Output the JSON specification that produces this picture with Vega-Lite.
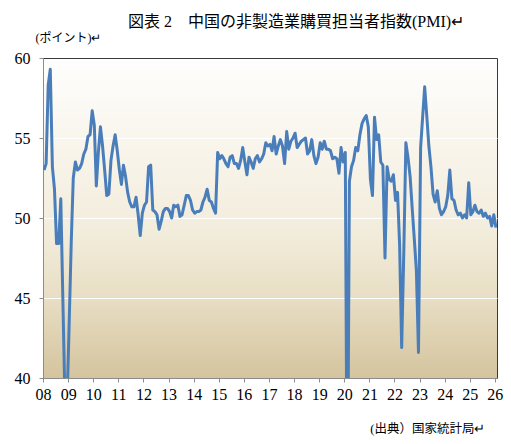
{
  "$schema": "https://vega.github.io/schema/vega-lite/v6.json",
  "autosize": {"type": "none"},
  "padding": {"left": 43, "top": 58, "right": 14, "bottom": 66},
  "width": 454,
  "height": 320,
  "background": "#ffffff",
  "title": {
    "text": "図表 2　中国の非製造業購買担当者指数(PMI)↵",
    "font": "Liberation Serif, Noto Sans CJK JP",
    "fontSize": 16,
    "fontWeight": "normal",
    "color": "#000000",
    "anchor": "start",
    "frame": "group",
    "dx": 85,
    "offset": 1
  },
  "config": {
    "view": {
      "stroke": "#3a3a3a",
      "strokeWidth": 1,
      "fill": {
        "gradient": "linear",
        "x1": 0, "y1": 0, "x2": 0, "y2": 1,
        "stops": [
          {"offset": 0, "color": "#fefefd"},
          {"offset": 0.3, "color": "#f8f4ea"},
          {"offset": 0.55, "color": "#f2ecdb"},
          {"offset": 0.75, "color": "#e8dec4"},
          {"offset": 1, "color": "#d4c49e"}
        ]
      }
    },
    "axis": {
      "labelFont": "Liberation Serif",
      "labelFontSize": 16,
      "labelColor": "#000000",
      "domainColor": "#8c8c8c",
      "tickColor": "#8c8c8c",
      "tickSize": 4,
      "titleFont": "Liberation Serif, Noto Sans CJK JP",
      "titleFontSize": 12,
      "titleFontWeight": "normal",
      "titleColor": "#000000"
    }
  },
  "data": {
    "values": [
      {"m": "2008-01", "v": 53.0}, {"m": "2008-02", "v": 53.4}, {"m": "2008-03", "v": 58.3}, {"m": "2008-04", "v": 59.3},
      {"m": "2008-05", "v": 53.2}, {"m": "2008-06", "v": 51.8}, {"m": "2008-07", "v": 48.4}, {"m": "2008-08", "v": 48.4},
      {"m": "2008-09", "v": 51.2}, {"m": "2008-10", "v": 44.8}, {"m": "2008-11", "v": 38.5}, {"m": "2008-12", "v": 38.5},
      {"m": "2009-01", "v": 43.5}, {"m": "2009-02", "v": 48.5}, {"m": "2009-03", "v": 52.5}, {"m": "2009-04", "v": 53.5},
      {"m": "2009-05", "v": 53.0}, {"m": "2009-06", "v": 53.1}, {"m": "2009-07", "v": 53.4}, {"m": "2009-08", "v": 54.0},
      {"m": "2009-09", "v": 54.3}, {"m": "2009-10", "v": 55.1}, {"m": "2009-11", "v": 55.2}, {"m": "2009-12", "v": 56.7},
      {"m": "2010-01", "v": 55.8}, {"m": "2010-02", "v": 52.0}, {"m": "2010-03", "v": 54.1}, {"m": "2010-04", "v": 55.7},
      {"m": "2010-05", "v": 54.5}, {"m": "2010-06", "v": 53.0}, {"m": "2010-07", "v": 51.4}, {"m": "2010-08", "v": 51.5},
      {"m": "2010-09", "v": 53.6}, {"m": "2010-10", "v": 54.5}, {"m": "2010-11", "v": 55.2}, {"m": "2010-12", "v": 54.2},
      {"m": "2011-01", "v": 53.0}, {"m": "2011-02", "v": 52.1}, {"m": "2011-03", "v": 53.3}, {"m": "2011-04", "v": 52.6},
      {"m": "2011-05", "v": 51.6}, {"m": "2011-06", "v": 51.0}, {"m": "2011-07", "v": 50.7}, {"m": "2011-08", "v": 50.7},
      {"m": "2011-09", "v": 51.3}, {"m": "2011-10", "v": 50.2}, {"m": "2011-11", "v": 48.9}, {"m": "2011-12", "v": 50.3},
      {"m": "2012-01", "v": 50.8}, {"m": "2012-02", "v": 51.0}, {"m": "2012-03", "v": 53.2}, {"m": "2012-04", "v": 53.3},
      {"m": "2012-05", "v": 50.5}, {"m": "2012-06", "v": 50.4}, {"m": "2012-07", "v": 50.2}, {"m": "2012-08", "v": 49.3},
      {"m": "2012-09", "v": 49.8}, {"m": "2012-10", "v": 50.4}, {"m": "2012-11", "v": 50.6}, {"m": "2012-12", "v": 50.6},
      {"m": "2013-01", "v": 50.4}, {"m": "2013-02", "v": 50.0}, {"m": "2013-03", "v": 50.8}, {"m": "2013-04", "v": 50.7},
      {"m": "2013-05", "v": 50.8}, {"m": "2013-06", "v": 50.1}, {"m": "2013-07", "v": 50.2}, {"m": "2013-08", "v": 50.8},
      {"m": "2013-09", "v": 51.4}, {"m": "2013-10", "v": 51.4}, {"m": "2013-11", "v": 51.1}, {"m": "2013-12", "v": 50.5},
      {"m": "2014-01", "v": 50.3}, {"m": "2014-02", "v": 50.4}, {"m": "2014-03", "v": 50.4}, {"m": "2014-04", "v": 50.5},
      {"m": "2014-05", "v": 51.0}, {"m": "2014-06", "v": 51.3}, {"m": "2014-07", "v": 51.8}, {"m": "2014-08", "v": 51.1},
      {"m": "2014-09", "v": 51.0}, {"m": "2014-10", "v": 50.6}, {"m": "2014-11", "v": 50.3}, {"m": "2014-12", "v": 54.1},
      {"m": "2015-01", "v": 53.7}, {"m": "2015-02", "v": 53.9}, {"m": "2015-03", "v": 53.7}, {"m": "2015-04", "v": 53.4},
      {"m": "2015-05", "v": 53.2}, {"m": "2015-06", "v": 53.8}, {"m": "2015-07", "v": 53.9}, {"m": "2015-08", "v": 53.4},
      {"m": "2015-09", "v": 53.4}, {"m": "2015-10", "v": 53.1}, {"m": "2015-11", "v": 53.6}, {"m": "2015-12", "v": 54.4},
      {"m": "2016-01", "v": 53.5}, {"m": "2016-02", "v": 52.7}, {"m": "2016-03", "v": 53.8}, {"m": "2016-04", "v": 53.5},
      {"m": "2016-05", "v": 53.1}, {"m": "2016-06", "v": 53.7}, {"m": "2016-07", "v": 53.9}, {"m": "2016-08", "v": 53.5},
      {"m": "2016-09", "v": 53.7}, {"m": "2016-10", "v": 54.0}, {"m": "2016-11", "v": 54.7}, {"m": "2016-12", "v": 54.5},
      {"m": "2017-01", "v": 54.6}, {"m": "2017-02", "v": 54.2}, {"m": "2017-03", "v": 55.1}, {"m": "2017-04", "v": 54.0},
      {"m": "2017-05", "v": 54.5}, {"m": "2017-06", "v": 54.9}, {"m": "2017-07", "v": 54.5}, {"m": "2017-08", "v": 53.4},
      {"m": "2017-09", "v": 55.4}, {"m": "2017-10", "v": 54.3}, {"m": "2017-11", "v": 54.8}, {"m": "2017-12", "v": 55.0},
      {"m": "2018-01", "v": 55.3}, {"m": "2018-02", "v": 54.4}, {"m": "2018-03", "v": 54.6}, {"m": "2018-04", "v": 54.8},
      {"m": "2018-05", "v": 54.9}, {"m": "2018-06", "v": 55.0}, {"m": "2018-07", "v": 54.0}, {"m": "2018-08", "v": 54.2},
      {"m": "2018-09", "v": 54.9}, {"m": "2018-10", "v": 53.9}, {"m": "2018-11", "v": 53.4}, {"m": "2018-12", "v": 53.8},
      {"m": "2019-01", "v": 54.7}, {"m": "2019-02", "v": 54.3}, {"m": "2019-03", "v": 54.8}, {"m": "2019-04", "v": 54.3},
      {"m": "2019-05", "v": 54.3}, {"m": "2019-06", "v": 54.2}, {"m": "2019-07", "v": 53.7}, {"m": "2019-08", "v": 53.8},
      {"m": "2019-09", "v": 53.7}, {"m": "2019-10", "v": 52.8}, {"m": "2019-11", "v": 54.4}, {"m": "2019-12", "v": 53.5},
      {"m": "2020-01", "v": 54.1}, {"m": "2020-02", "v": 29.6}, {"m": "2020-03", "v": 52.3}, {"m": "2020-04", "v": 53.2},
      {"m": "2020-05", "v": 53.6}, {"m": "2020-06", "v": 54.4}, {"m": "2020-07", "v": 54.2}, {"m": "2020-08", "v": 55.2},
      {"m": "2020-09", "v": 55.9}, {"m": "2020-10", "v": 56.2}, {"m": "2020-11", "v": 56.4}, {"m": "2020-12", "v": 55.7},
      {"m": "2021-01", "v": 52.4}, {"m": "2021-02", "v": 51.4}, {"m": "2021-03", "v": 56.3}, {"m": "2021-04", "v": 54.9},
      {"m": "2021-05", "v": 55.2}, {"m": "2021-06", "v": 53.5}, {"m": "2021-07", "v": 53.3}, {"m": "2021-08", "v": 47.5},
      {"m": "2021-09", "v": 53.2}, {"m": "2021-10", "v": 52.4}, {"m": "2021-11", "v": 52.3}, {"m": "2021-12", "v": 52.7},
      {"m": "2022-01", "v": 51.1}, {"m": "2022-02", "v": 51.6}, {"m": "2022-03", "v": 48.4}, {"m": "2022-04", "v": 41.9},
      {"m": "2022-05", "v": 47.8}, {"m": "2022-06", "v": 54.7}, {"m": "2022-07", "v": 53.8}, {"m": "2022-08", "v": 52.6},
      {"m": "2022-09", "v": 50.6}, {"m": "2022-10", "v": 48.7}, {"m": "2022-11", "v": 46.7}, {"m": "2022-12", "v": 41.6},
      {"m": "2023-01", "v": 54.4}, {"m": "2023-02", "v": 56.3}, {"m": "2023-03", "v": 58.2}, {"m": "2023-04", "v": 56.4},
      {"m": "2023-05", "v": 54.5}, {"m": "2023-06", "v": 53.2}, {"m": "2023-07", "v": 51.5}, {"m": "2023-08", "v": 51.0},
      {"m": "2023-09", "v": 51.7}, {"m": "2023-10", "v": 50.6}, {"m": "2023-11", "v": 50.2}, {"m": "2023-12", "v": 50.4},
      {"m": "2024-01", "v": 50.7}, {"m": "2024-02", "v": 51.4}, {"m": "2024-03", "v": 53.0}, {"m": "2024-04", "v": 51.2},
      {"m": "2024-05", "v": 51.1}, {"m": "2024-06", "v": 50.5}, {"m": "2024-07", "v": 50.2}, {"m": "2024-08", "v": 50.3},
      {"m": "2024-09", "v": 50.0}, {"m": "2024-10", "v": 50.2}, {"m": "2024-11", "v": 50.0}, {"m": "2024-12", "v": 52.2},
      {"m": "2025-01", "v": 50.2}, {"m": "2025-02", "v": 50.4}, {"m": "2025-03", "v": 50.8}, {"m": "2025-04", "v": 50.4},
      {"m": "2025-05", "v": 50.3}, {"m": "2025-06", "v": 50.5}, {"m": "2025-07", "v": 50.1}, {"m": "2025-08", "v": 50.3},
      {"m": "2025-09", "v": 50.0}, {"m": "2025-10", "v": 50.1}, {"m": "2025-11", "v": 49.5}, {"m": "2025-12", "v": 50.2},
      {"m": "2026-01", "v": 49.4}
    ]
  },
  "mark": {"type": "line", "clip": true, "color": "#4a7ebb", "strokeWidth": 3, "strokeJoin": "round"},
  "encoding": {
    "x": {
      "field": "m",
      "timeUnit": "utcyearmonth",
      "type": "temporal",
      "bandPosition": 0.5,
      "scale": {
        "domain": [
          {"year": 2008, "month": 1, "date": 1, "utc": true},
          {"year": 2026, "month": 2, "date": 1, "utc": true}
        ],
        "nice": false
      },
      "axis": {
        "title": "(出典）国家統計局↵",
        "titleX": 442,
        "titleY": 50,
        "titleAlign": "right",
        "titleBaseline": "middle",
        "titleFontSize": 12.5,
        "format": "%y",
        "tickCount": {"interval": "year", "step": 1},
        "labelPadding": 4,
        "labelDx": 2,
        "labelFlush": false,
        "labelOverlap": false,
        "grid": false
      }
    },
    "y": {
      "field": "v",
      "type": "quantitative",
      "scale": {"domain": [40, 60], "nice": false, "zero": false},
      "axis": {
        "title": "(ポイント)↵",
        "titleAngle": 0,
        "titleX": -8,
        "titleY": -21,
        "titleAlign": "left",
        "titleBaseline": "middle",
        "values": [40, 45, 50, 55, 60],
        "labelPadding": 9,
        "grid": true,
        "gridColor": "#ffffff",
        "gridWidth": 1,
        "gridOpacity": {"condition": {"test": "datum.value == 40 || datum.value == 60", "value": 0}, "value": 1}
      }
    }
  }
}
